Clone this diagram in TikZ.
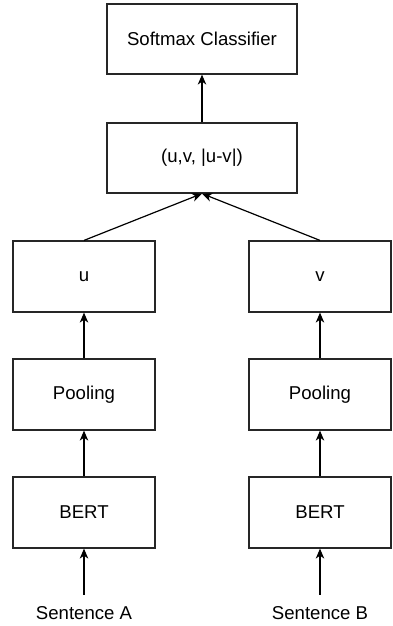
\documentclass[tikz,border=0pt]{standalone}
\usepackage{fontspec}
\setmainfont{Liberation Sans}
\usetikzlibrary{arrows.meta}
\begin{document}
\begin{tikzpicture}[x=1pt,y=-1pt,
  box/.style={draw=black!85,line width=1.2pt,minimum width=142pt,minimum height=71pt,inner sep=0pt,font=\fontsize{18.6}{22}\selectfont},
  widebox/.style={box,minimum width=190pt,minimum height=70pt},
  lbl/.style={inner sep=0pt,minimum height=36pt,font=\fontsize{18.6}{22}\selectfont},
  conn/.style={line width=1.2pt,-{Stealth[length=10pt,width=8.5pt,inset=3pt]}}]
\useasboundingbox (0,0) rectangle (392,626);
\node[widebox] (soft) at (202,39) {Softmax Classifier};
\node[widebox] (comb) at (202,158) {(u,v, |u-v|)};
\node[box] (u) at (84,276.5) {u};
\node[box] (v) at (320,276.5) {v};
\node[box] (poolA) at (84,394.5) {Pooling};
\node[box] (poolB) at (320,394.5) {Pooling};
\node[box] (bertA) at (84,512.5) {BERT};
\node[box] (bertB) at (320,512.5) {BERT};
\node[lbl] (sentA) at (84,613) {Sentence A};
\node[lbl] (sentB) at (320,613) {Sentence B};
\draw[conn] (comb) -- (soft);
\draw[conn] (u.north) -- (comb.south);
\draw[conn] (v.north) -- (comb.south);
\draw[conn] (poolA) -- (u);
\draw[conn] (poolB) -- (v);
\draw[conn] (bertA) -- (poolA);
\draw[conn] (bertB) -- (poolB);
\draw[conn] (sentA) -- (bertA);
\draw[conn] (sentB) -- (bertB);
\end{tikzpicture}
\end{document}
